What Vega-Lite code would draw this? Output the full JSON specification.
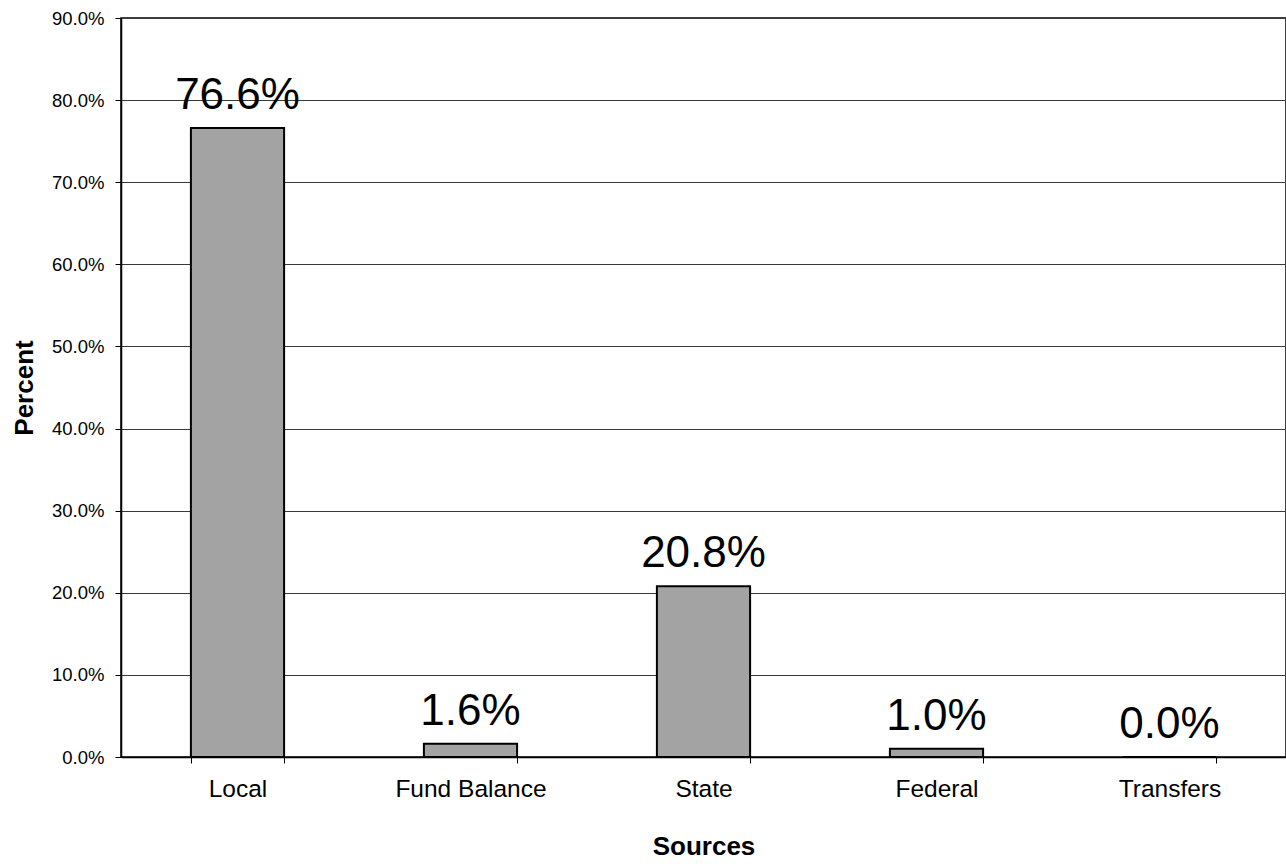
{
  "$schema": "https://vega.github.io/schema/vega-lite/v6.json",
  "width": 1165,
  "height": 739,
  "autosize": {"type": "none"},
  "padding": {"left": 121, "top": 18, "right": 0, "bottom": 107},
  "background": "white",
  "config": {
    "font": "Liberation Sans",
    "view": {"stroke": "black", "strokeWidth": 1.5},
    "axis": {"labelColor": "black", "titleColor": "black"}
  },
  "data": {
    "values": [
      {"source": "Local", "share": 0.766},
      {"source": "Fund Balance", "share": 0.016},
      {"source": "State", "share": 0.208},
      {"source": "Federal", "share": 0.010},
      {"source": "Transfers", "share": 0.000}
    ]
  },
  "encoding": {
    "x": {
      "field": "source",
      "type": "nominal",
      "sort": null,
      "title": "Sources",
      "scale": {"paddingInner": 0.6, "paddingOuter": 0.3},
      "axis": {
        "labelAngle": 0,
        "labelFontSize": 24.5,
        "labelPadding": 14,
        "titleFontSize": 26,
        "titleFontWeight": "bold",
        "titlePadding": 33,
        "tickBand": "extent",
        "tickSize": 6,
        "tickColor": "black",
        "domainColor": "black",
        "domainWidth": 1.5,
        "grid": false
      }
    }
  },
  "layer": [
    {
      "mark": {"type": "bar", "fill": "#a3a3a3", "stroke": "black", "strokeWidth": 2},
      "encoding": {
        "y": {
          "field": "share",
          "type": "quantitative",
          "title": "Percent",
          "scale": {"domain": [0, 0.9], "nice": false},
          "axis": {
            "values": [0, 0.1, 0.2, 0.3, 0.4, 0.5, 0.6, 0.7, 0.8, 0.9],
            "format": ".1%",
            "labelFontSize": 18.5,
            "labelPadding": 11,
            "titleFontSize": 26,
            "titleFontWeight": "bold",
            "titlePadding": 14,
            "tickSize": 6,
            "tickColor": "black",
            "domainColor": "black",
            "domainWidth": 1.5,
            "gridColor": "#3a3a3a",
            "gridWidth": 1,
            "gridOpacity": 1
          }
        }
      }
    },
    {
      "mark": {"type": "text", "fontSize": 44, "baseline": "alphabetic", "dy": -19, "color": "black"},
      "encoding": {
        "y": {"field": "share", "type": "quantitative"},
        "text": {"field": "share", "type": "quantitative", "format": ".1%"}
      }
    }
  ]
}
